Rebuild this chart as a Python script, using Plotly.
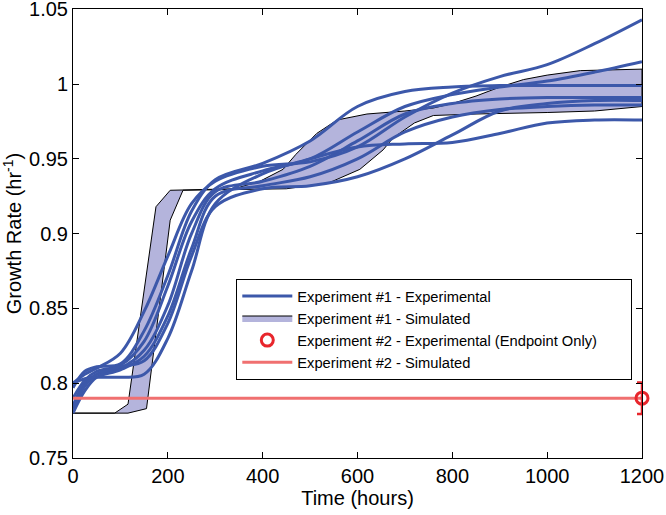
import plotly.graph_objects as go

# ---- data ----
T = [0, 25, 50, 100, 150, 200, 250, 300, 400, 500, 600, 700, 800, 900, 1000, 1100, 1200]
exp1_c1 = [0.800, 0.806, 0.810, 0.820, 0.848, 0.885, 0.920, 0.935, 0.945, 0.948, 0.958, 0.978, 0.994, 1.005, 1.013, 1.027, 1.043]
exp1_c2 = [0.790, 0.802, 0.808, 0.812, 0.828, 0.865, 0.908, 0.930, 0.942, 0.950, 0.968, 0.985, 0.993, 0.998, 1.002, 1.008, 1.015]
exp1_c3 = [0.797, 0.808, 0.811, 0.813, 0.835, 0.872, 0.915, 0.936, 0.947, 0.962, 0.985, 0.995, 0.998, 0.999, 0.999, 0.999, 0.999]
exp1_c4 = [0.785, 0.800, 0.806, 0.810, 0.822, 0.852, 0.900, 0.928, 0.935, 0.945, 0.962, 0.980, 0.987, 0.990, 0.991, 0.991, 0.991]
exp1_c5 = [0.780, 0.795, 0.804, 0.809, 0.818, 0.845, 0.890, 0.925, 0.932, 0.938, 0.950, 0.968, 0.978, 0.983, 0.985, 0.986, 0.986]
exp1_c6 = [0.800, 0.803, 0.804, 0.804, 0.806, 0.830, 0.875, 0.920, 0.940, 0.950, 0.958, 0.960, 0.961, 0.967, 0.974, 0.976, 0.976]
exp1_c7 = [0.783, 0.798, 0.806, 0.811, 0.815, 0.840, 0.885, 0.918, 0.930, 0.932, 0.938, 0.950, 0.966, 0.982, 0.987, 0.989, 0.989]
exp1_curves = [exp1_c1, exp1_c2, exp1_c3, exp1_c4, exp1_c5, exp1_c6, exp1_c7]

sim_upper_t = [0, 88, 116, 175, 205, 340, 394, 443, 470, 514, 557, 620, 700, 760, 800, 850, 900, 950, 1000, 1070, 1200]
sim_upper_v = [0.780, 0.780, 0.786, 0.918, 0.929, 0.930, 0.935, 0.943, 0.953, 0.967, 0.976, 0.980, 0.982, 0.984, 0.987, 0.992, 0.998, 1.003, 1.006, 1.009, 1.010]
sim_lower_t = [0, 116, 155, 205, 232, 450, 540, 605, 654, 675, 720, 760, 850, 1000, 1100, 1200]
sim_lower_v = [0.780, 0.780, 0.783, 0.909, 0.929, 0.930, 0.934, 0.943, 0.956, 0.964, 0.974, 0.979, 0.980, 0.981, 0.982, 0.985]

exp2_t = [0, 1200]
exp2_sim = [0.79, 0.79]
exp2_end_t = [1200]
exp2_end_v = [0.79]
exp2_end_err = [0.0105]

x_ticks = [0, 200, 400, 600, 800, 1000, 1200]
y_ticks = [0.75, 0.8, 0.85, 0.9, 0.95, 1.0, 1.05]
y_ticktext = ["0.75", "0.8", "0.85", "0.9", "0.95", "1", "1.05"]

BLUE = "#3c58aa"
FILL = "#b4b4dc"
RED_LINE = "#f07070"
RED = "#e8262c"
FONT = "Liberation Sans"
PAD = "\u00a0" * 7

fig = go.Figure()

fig.add_trace(go.Scatter(
    x=sim_upper_t + sim_lower_t[::-1],
    y=sim_upper_v + sim_lower_v[::-1],
    mode="lines", fill="toself", fillcolor=FILL,
    line=dict(color="black", width=1),
    name="Experiment #1 - Simulated", legendrank=2,
))

for i, c in enumerate(exp1_curves):
    fig.add_trace(go.Scatter(
        x=T, y=c, mode="lines",
        line=dict(color=BLUE, width=3, shape="spline", smoothing=1.0),
        name="Experiment #1 - Experimental", legendgroup="e1",
        showlegend=(i == 0), legendrank=1,
    ))

fig.add_trace(go.Scatter(
    x=exp2_t, y=exp2_sim, mode="lines",
    line=dict(color=RED_LINE, width=3),
    name="Experiment #2 - Simulated", legendrank=4,
))

fig.add_trace(go.Scatter(
    x=exp2_end_t, y=exp2_end_v, mode="markers",
    marker=dict(symbol="circle-open", size=12, color=RED, line=dict(width=3, color=RED)),
    error_y=dict(type="data", array=exp2_end_err, color=RED, thickness=2.5, width=5),
    name="Experiment #2 - Experimental (Endpoint Only)" + PAD, legendrank=3,
    cliponaxis=False,
))

axis_common = dict(
    showgrid=False, zeroline=False, showline=True, linecolor="black", linewidth=1,
    mirror="ticks", ticks="inside", ticklen=6, tickcolor="black",
    tickfont=dict(family=FONT, size=20, color="black"),
    automargin=False, ticklabeloverflow="allow",
)

fig.update_layout(
    width=666, height=515,
    margin=dict(l=73, r=24, t=9, b=57),
    paper_bgcolor="white", plot_bgcolor="white",
    font=dict(family=FONT, color="black"),
    xaxis=dict(range=[0, 1200], tickvals=x_ticks,
               title=dict(text="Time (hours)", font=dict(family=FONT, size=20), standoff=2),
               **axis_common),
    yaxis=dict(range=[0.75, 1.0502], tickvals=y_ticks, ticktext=y_ticktext,
               title=dict(text="Growth Rate (hr<sup>-1</sup>)", font=dict(family=FONT, size=20), standoff=6),
               **axis_common),
    legend=dict(x=0.287, y=0.399, xanchor="left", yanchor="top",
                bgcolor="white", bordercolor="black", borderwidth=1,
                font=dict(family=FONT, size=14.7, color="black"),
                tracegroupgap=0, itemwidth=50),
    showlegend=True,
)

fig.write_html("out.html", config={"displayModeBar": False},
               post_script="document.body.style.margin='0';document.body.style.overflow='hidden';")
